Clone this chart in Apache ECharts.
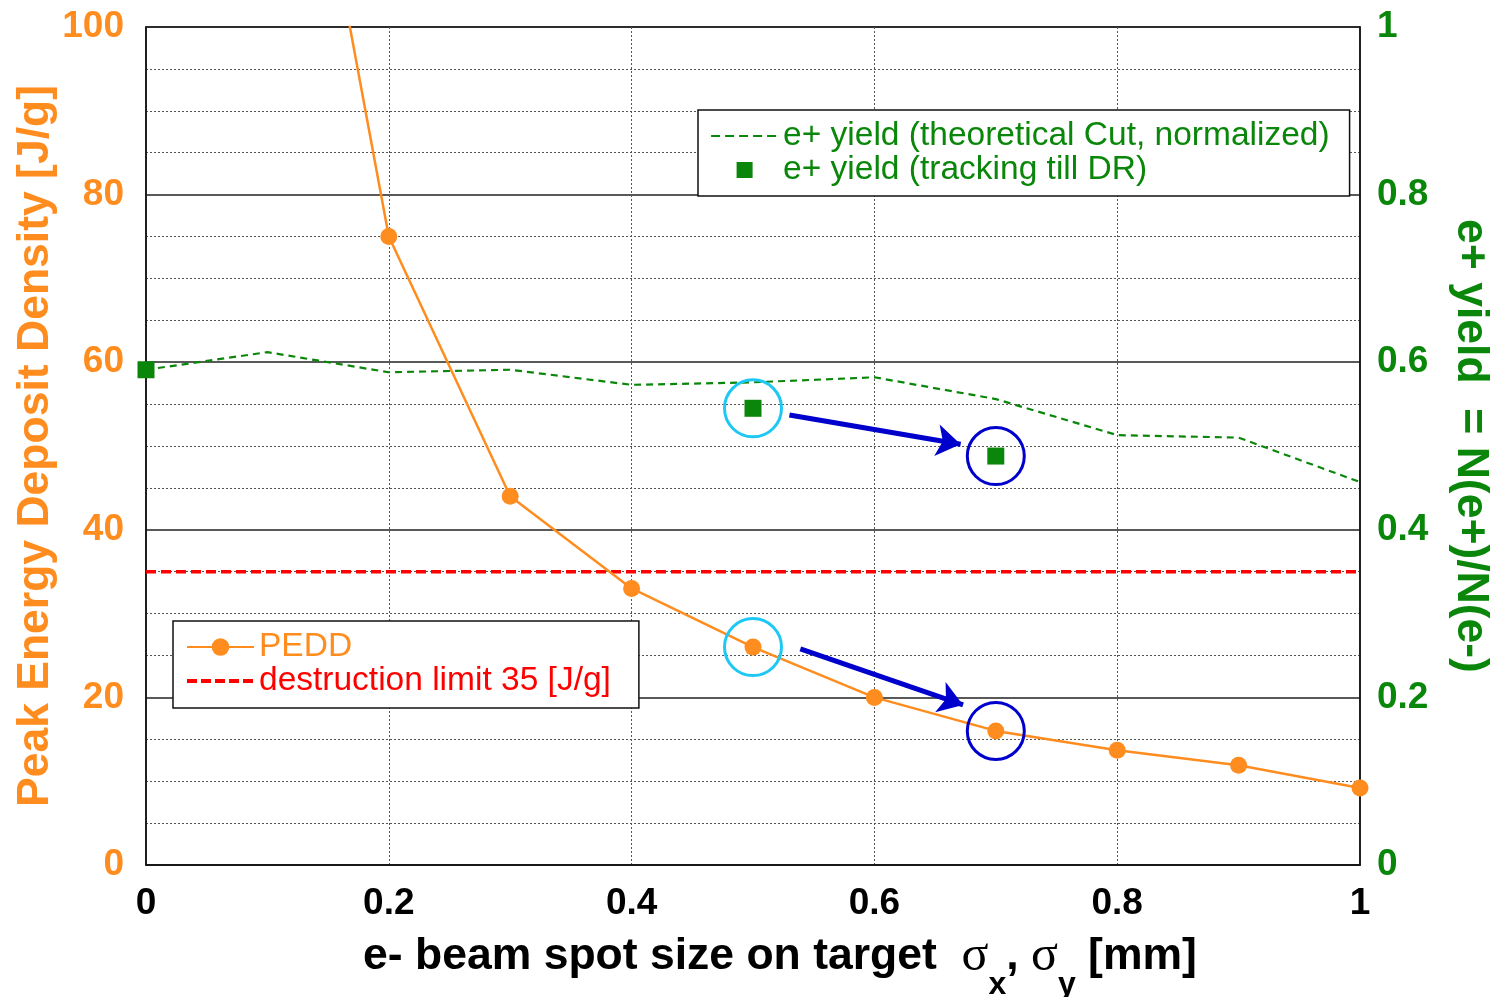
<!DOCTYPE html>
<html>
<head>
<meta charset="utf-8">
<script src="https://cdn.jsdelivr.net/npm/echarts@6/dist/echarts.min.js"></script>
<style>
  html, body { margin: 0; padding: 0; background: #fff; overflow: hidden; }
  #chart { width: 1491px; height: 997px; }
</style>
</head>
<body>
<div id="chart"></div>
<script>
// Beam spot size scan: peak energy deposit density and positron yield
const spotSize = [0.1, 0.2, 0.3, 0.4, 0.5, 0.6, 0.7, 0.8, 0.9, 1.0];
const peddValues = [153, 75, 44, 33, 26, 20, 16, 13.7, 11.9, 9.2];

const yieldCutX = [0, 0.1, 0.2, 0.3, 0.4, 0.5, 0.6, 0.7, 0.8, 0.9, 1.0];
const yieldCutValues = [0.591, 0.612, 0.588, 0.591, 0.573, 0.576, 0.582, 0.556, 0.513, 0.510, 0.457];

const yieldTrackX = [0, 0.5, 0.7];
const yieldTrackValues = [0.591, 0.545, 0.488];

const destructionLimit = 35;
const limitRangeX = [0, 1];

// highlighted spot sizes: before (cyan) and after (blue)
const ringX = [0.5, 0.7];
const ringPEDD = [26, 16];
const ringYield = [0.545, 0.488];

// arrows between the highlighted points
const arrowPEDD = [[0.539, 25.8], [0.673, 19.1]];
const arrowYield = [[0.530, 0.537], [0.671, 0.502]];

const xTicks = { min: 0, max: 1, interval: 0.2 };
const leftTicks = { min: 0, max: 100, interval: 20 };
const rightTicks = { min: 0, max: 1, interval: 0.2 };

const ORANGE = '#ff8c1e';
const GREEN = '#0a870a';
const RED = '#ff0000';
const CYAN = '#1ec8f5';
const BLUE = '#0000cc';
const FONT = 'Liberation Sans';

const chart = echarts.init(document.getElementById('chart'), null, { renderer: 'canvas' });

const ringColors = [CYAN, BLUE];
function ringData(ys) {
  return ringX.map((x, i) => ({
    value: [x, ys[i]],
    itemStyle: { color: 'rgba(0,0,0,0)', borderColor: ringColors[i], borderWidth: 3, opacity: 1 }
  }));
}
function arrowLine(a) {
  return [[{ coord: a[0] }, { coord: a[1] }]];
}

const hiddenMarker = { opacity: 0 };

const option = {
  animation: false,
  backgroundColor: '#ffffff',
  textStyle: { fontFamily: FONT },
  grid: {
    left: 146, right: 131, top: 27, bottom: 132,
    outerBoundsMode: 'none',
    containLabel: false,
    show: true, borderColor: '#111', borderWidth: 1.5, backgroundColor: 'transparent'
  },
  legend: [
    {
      left: 698, top: 110,
      orient: 'vertical',
      backgroundColor: '#fff', borderColor: '#111', borderWidth: 1.5,
      padding: [9, 20, 9, 12],
      itemGap: 0, itemWidth: 67, itemHeight: 16,
      selectedMode: false,
      textStyle: { fontFamily: FONT, fontSize: 33.5, lineHeight: 33, color: GREEN },
      data: [
        {
          name: 'e+ yield (theoretical Cut, normalized)',
          itemStyle: hiddenMarker,
          lineStyle: { color: GREEN, width: 2.2, type: [9, 5] },
          textStyle: { color: GREEN }
        },
        { name: 'e+ yield (tracking till DR)', icon: 'path://M0,0H1V1H0Z', textStyle: { color: GREEN } }
      ]
    },
    {
      left: 173, top: 621,
      orient: 'vertical',
      backgroundColor: '#fff', borderColor: '#111', borderWidth: 1.5,
      padding: [9, 28, 10, 12],
      itemGap: 0, itemWidth: 67, itemHeight: 22,
      selectedMode: false,
      textStyle: { fontFamily: FONT, fontSize: 33.5, lineHeight: 33 },
      data: [
        { name: 'PEDD', textStyle: { color: ORANGE } },
        {
          name: 'destruction limit 35 [J/g]',
          itemStyle: hiddenMarker,
          lineStyle: { color: RED, width: 4, type: [10, 4] },
          textStyle: { color: RED }
        }
      ]
    }
  ],
  xAxis: {
    type: 'value',
    min: xTicks.min, max: xTicks.max, interval: xTicks.interval,
    axisLine: { show: true, lineStyle: { color: '#111', width: 1.5 } },
    axisTick: { show: false },
    axisLabel: { color: '#000', fontSize: 37, fontWeight: 'bold', fontFamily: FONT, margin: 20 },
    splitLine: { show: true, lineStyle: { color: '#555', width: 1, type: [2, 2] } },
    name: '{t|e- beam spot size on target  }{s|σ}{sub|x}{t|, }{s|σ}{sub|y}{t| [mm]}',
    nameLocation: 'middle',
    nameGap: 48,
    nameTextStyle: {
      padding: [0, 0, 0, 54],
      rich: {
        t: { fontSize: 44.5, fontWeight: 'bold', fontFamily: FONT, color: '#000' },
        s: { fontSize: 50, fontFamily: 'Liberation Serif', color: '#000' },
        sub: { fontSize: 32, fontWeight: 'bold', fontFamily: FONT, color: '#000', padding: [56, 0, 0, 0] }
      }
    }
  },
  yAxis: [
    {
      type: 'value',
      min: leftTicks.min, max: leftTicks.max, interval: leftTicks.interval,
      axisLine: { show: true, lineStyle: { color: '#111', width: 1.5 } },
      axisTick: { show: false },
      axisLabel: { color: ORANGE, fontSize: 37, fontWeight: 'bold', fontFamily: FONT, margin: 22 },
      splitLine: { show: true, lineStyle: { color: '#222', width: 1.5 } },
      minorTick: { show: false, splitNumber: 4 },
      minorSplitLine: { show: true, lineStyle: { color: '#555', width: 1, type: [2, 2] } },
      name: 'Peak Energy Deposit Density [J/g]',
      nameLocation: 'middle',
      nameMoveOverlap: false,
      nameGap: 88,
      nameTextStyle: { color: ORANGE, fontSize: 44.5, fontWeight: 'bold', fontFamily: FONT }
    },
    {
      type: 'value',
      position: 'right',
      min: rightTicks.min, max: rightTicks.max, interval: rightTicks.interval,
      axisLine: { show: true, lineStyle: { color: '#111', width: 1.5 } },
      axisTick: { show: false },
      axisLabel: { color: GREEN, fontSize: 37, fontWeight: 'bold', fontFamily: FONT, margin: 17 },
      splitLine: { show: false },
      name: 'e+ yield  = N(e+)/N(e-)',
      nameLocation: 'middle',
      nameGap: 88,
      nameRotate: -90,
      nameTextStyle: { color: GREEN, fontSize: 44.5, fontWeight: 'bold', fontFamily: FONT }
    }
  ],
  series: [
    {
      name: 'destruction limit 35 [J/g]',
      type: 'line',
      yAxisIndex: 0,
      symbol: 'none',
      silent: true,
      data: limitRangeX.map(x => [x, destructionLimit]),
      lineStyle: { color: RED, width: 3.5, type: [10, 5] },
      itemStyle: { color: RED }
    },
    {
      name: 'e+ yield (theoretical Cut, normalized)',
      type: 'line',
      yAxisIndex: 1,
      symbol: 'none',
      silent: true,
      data: yieldCutX.map((x, i) => [x, yieldCutValues[i]]),
      lineStyle: { color: GREEN, width: 2.2, type: [7, 5] },
      itemStyle: { color: GREEN }
    },
    {
      name: 'e+ yield (tracking till DR)',
      type: 'scatter',
      yAxisIndex: 1,
      symbol: 'rect',
      symbolSize: 17,
      clip: false,
      silent: true,
      data: yieldTrackX.map((x, i) => [x, yieldTrackValues[i]]),
      itemStyle: { color: GREEN, opacity: 1 }
    },
    {
      name: 'PEDD',
      type: 'line',
      yAxisIndex: 0,
      symbol: 'circle',
      symbolSize: 17,
      showAllSymbol: true,
      clip: true,
      silent: true,
      data: spotSize.map((x, i) => [x, peddValues[i]]),
      lineStyle: { color: ORANGE, width: 2.5 },
      itemStyle: { color: ORANGE, opacity: 1 }
    },
    {
      name: 'ringsPEDD',
      type: 'scatter',
      yAxisIndex: 0,
      symbol: 'circle',
      symbolSize: 57,
      silent: true,
      z: 5,
      data: ringData(ringPEDD),
      markLine: {
        silent: true,
        symbol: ['none', 'arrow'],
        symbolSize: 24,
        label: { show: false },
        lineStyle: { color: BLUE, width: 5, type: 'solid', opacity: 1 },
        data: arrowLine(arrowPEDD)
      }
    },
    {
      name: 'ringsYield',
      type: 'scatter',
      yAxisIndex: 1,
      symbol: 'circle',
      symbolSize: 57,
      silent: true,
      z: 5,
      data: ringData(ringYield),
      markLine: {
        silent: true,
        symbol: ['none', 'arrow'],
        symbolSize: 24,
        label: { show: false },
        lineStyle: { color: BLUE, width: 5, type: 'solid', opacity: 1 },
        data: arrowLine(arrowYield)
      }
    }
  ]
};

chart.setOption(option);
</script>
</body>
</html>
